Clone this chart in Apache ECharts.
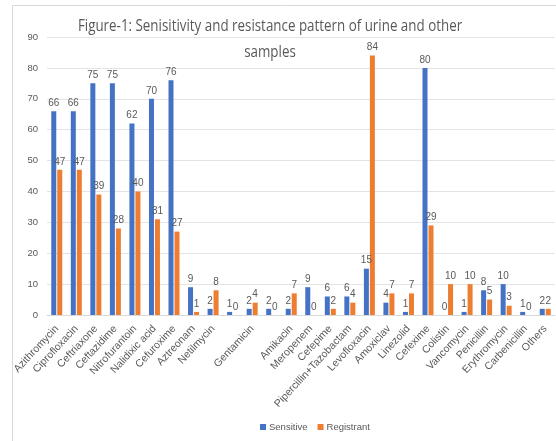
<!DOCTYPE html>
<html><head><meta charset="utf-8">
<script src="https://cdn.jsdelivr.net/npm/echarts@6/dist/echarts.min.js"></script>
<style>html,body{margin:0;padding:0;background:#fff}#c{width:556px;height:441px}</style>
</head><body><div id="c"></div>
<script>
const titleLines = ['Figure-1: Senisitivity and resistance pattern of urine and other', 'samples'];
const categories = ['Azithromycin','Ciprofloxacin','Ceftriaxone','Ceftazidime','Nitrofurantoin','Nalidixic acid','Cefuroxime','Aztreonam','Netilmycin',' ','Gentamicin','  ','Amikacin','Meropenem','Cefepime','Pipercillin+Tazobactam','Levofloxacin','Amoxiclav','Linezolid','Cefexime','Colistin','Vancomycin','Penicillin','Erythromycin','Carbenicillin','Others'];
const sensitive = [66,66,75,75,62,70,76,9,2,1,2,2,2,9,6,6,15,4,1,80,0,1,8,10,1,2];
const registrant = [47,47,39,28,40,31,27,1,8,0,4,0,7,0,2,4,84,7,7,29,10,10,5,3,0,2];
const yTicks = [0,10,20,30,40,50,60,70,80,90];

const chart = echarts.init(document.getElementById('c'));
const lbl = {show:true, position:'top', color:'#595959', fontSize:10, fontFamily:'Liberation Sans', distance:3};
const titleStyle = (t) => ({text:t, fill:'#595959', font:'16.5px "Open Sans"', align:'center', verticalAlign:'middle'});
chart.setOption({
  animation:false,
  textStyle:{fontFamily:'Liberation Sans'},
  graphic:[
    {type:'rect', shape:{x:12.5,y:5.5,width:560,height:450}, style:{fill:null, stroke:'#d9d9d9', lineWidth:1}, silent:true, z:-1},
    {type:'text', x:270, y:26, scaleX:0.81, style:titleStyle(titleLines[0]), z:10},
    {type:'text', x:270, y:52, scaleX:0.81, style:titleStyle(titleLines[1]), z:10}
  ],
  legend:{top:417, left:255, itemWidth:6, itemHeight:6, itemGap:10, icon:'rect',
    textStyle:{color:'#595959', fontSize:9.5, padding:[0,0,0,-2]}, data:['Sensitive','Registrant']},
  grid:{left:47, right:1, top:37, bottom:126},
  xAxis:{type:'category', data:categories,
    axisLine:{lineStyle:{color:'#d9d9d9'}}, axisTick:{show:false},
    axisLabel:{rotate:47, interval:0, color:'#595959', fontSize:10.5, margin:12}},
  yAxis:{type:'value', min:yTicks[0], max:yTicks[yTicks.length-1], interval:10,
    axisLine:{show:false}, axisTick:{show:false},
    splitLine:{lineStyle:{color:'#e4e4e4'}},
    axisLabel:{color:'#595959', fontSize:9.5, margin:9}},
  series:[
    {name:'Sensitive', type:'bar', data:sensitive, barWidth:5, barGap:'20%', itemStyle:{color:'#4472C4'}, label:lbl},
    {name:'Registrant', type:'bar', data:registrant, barWidth:5, itemStyle:{color:'#ED7D31'}, label:lbl}
  ]
});
</script></body></html>
